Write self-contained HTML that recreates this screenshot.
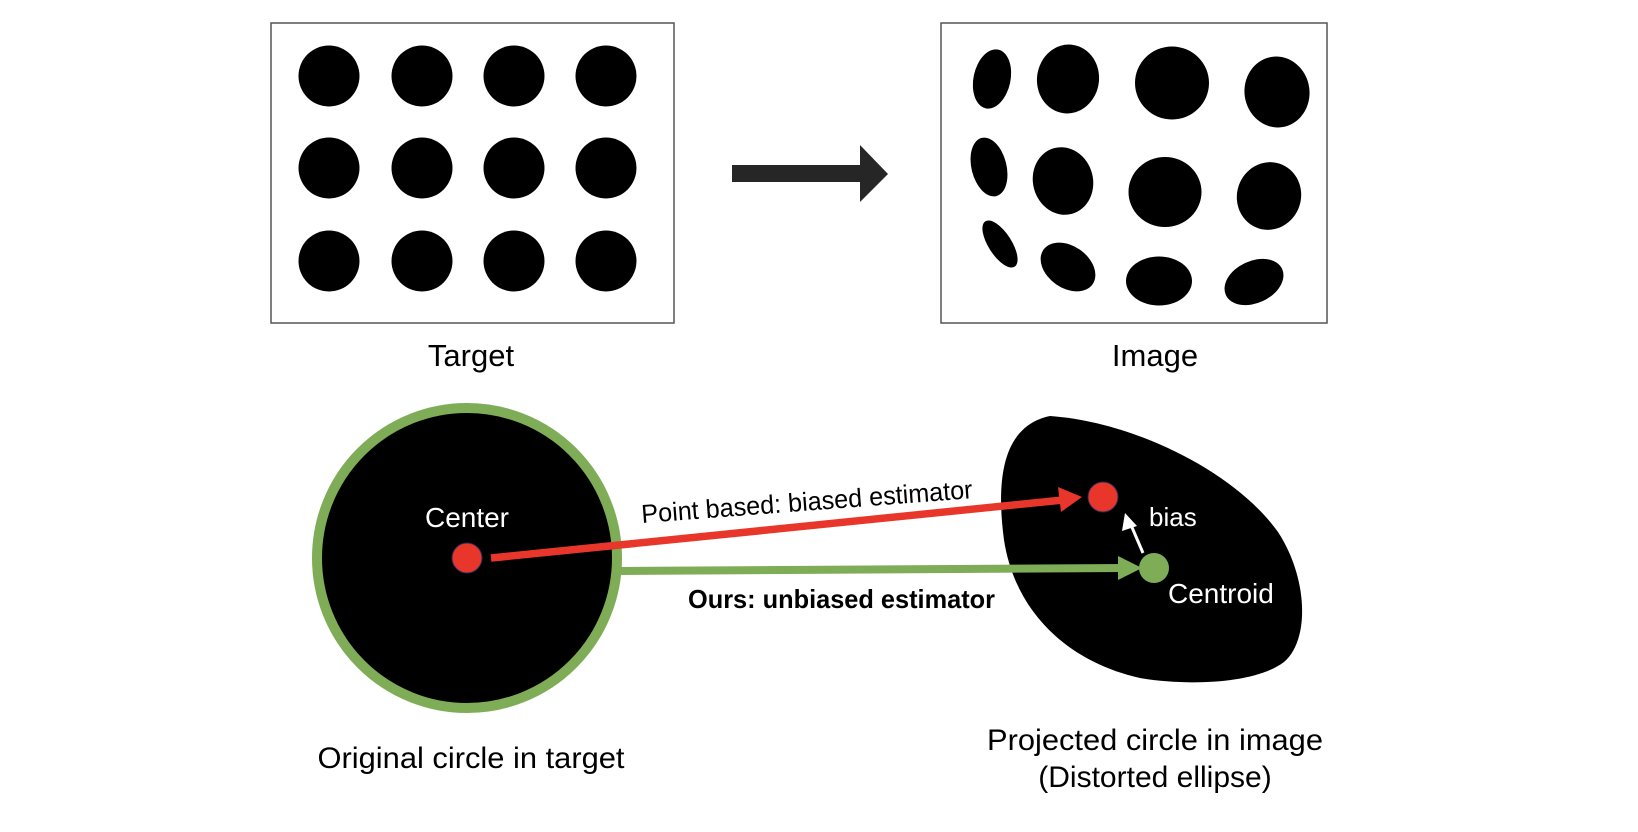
<!DOCTYPE html>
<html><head><meta charset="utf-8"><style>html,body{margin:0;padding:0;background:#fff;}svg{display:block;}</style></head>
<body>
<svg width="1638" height="832" viewBox="0 0 1638 832" xmlns="http://www.w3.org/2000/svg" font-family="Liberation Sans, Arial, sans-serif">
<rect width="1638" height="832" fill="#fff"/>
<rect x="271" y="23" width="403" height="300" fill="#fff" stroke="#555" stroke-width="1.5"/>
<g fill="#000">
<circle cx="329" cy="76" r="30.5"/><circle cx="422" cy="76" r="30.5"/><circle cx="514" cy="76" r="30.5"/><circle cx="606" cy="76" r="30.5"/>
<circle cx="329" cy="168" r="30.5"/><circle cx="422" cy="168" r="30.5"/><circle cx="514" cy="168" r="30.5"/><circle cx="606" cy="168" r="30.5"/>
<circle cx="329" cy="261" r="30.5"/><circle cx="422" cy="261" r="30.5"/><circle cx="514" cy="261" r="30.5"/><circle cx="606" cy="261" r="30.5"/>
</g>
<rect x="941" y="23" width="386" height="300" fill="#fff" stroke="#555" stroke-width="1.5"/>
<g fill="#000">
<ellipse cx="992" cy="79" rx="18.5" ry="30" transform="rotate(12 992 79)"/>
<ellipse cx="1068" cy="79" rx="31" ry="34.5" transform="rotate(8 1068 79)"/>
<ellipse cx="1172" cy="83" rx="37" ry="36.5"/>
<ellipse cx="1277" cy="92" rx="32.5" ry="35.5" transform="rotate(-8 1277 92)"/>
<ellipse cx="989" cy="167" rx="17.5" ry="30" transform="rotate(-14 989 167)"/>
<ellipse cx="1063" cy="181" rx="30" ry="34" transform="rotate(-15 1063 181)"/>
<ellipse cx="1165" cy="192" rx="36.5" ry="35"/>
<ellipse cx="1269" cy="196" rx="32" ry="34" transform="rotate(18 1269 196)"/>
<ellipse cx="1000" cy="244" rx="11.5" ry="27" transform="rotate(-33 1000 244)"/>
<ellipse cx="1068" cy="267" rx="30" ry="21" transform="rotate(35 1068 267)"/>
<ellipse cx="1159" cy="281" rx="33" ry="24.5"/>
<ellipse cx="1254" cy="282" rx="31" ry="21" transform="rotate(-25 1254 282)"/>
</g>
<polygon points="732,165 860,165 860,145 888,174 860,202 860,182 732,182" fill="#262626"/>
<g font-size="31" fill="#000" text-anchor="middle">
<text x="471" y="366">Target</text>
<text x="1155" y="366">Image</text>
</g>
<circle cx="467" cy="558" r="150" fill="#000" stroke="#7fac57" stroke-width="10"/>
<path d="M1050 416 C1135 422 1235 472 1278 532 C1308 578 1310 640 1284 662 C1252 686 1180 685 1140 678 C1068 662 1015 612 1004 540 C996 480 1002 426 1050 416 Z" fill="#000"/>
<line x1="620" y1="571" x2="1125" y2="568" stroke="#7fac57" stroke-width="8"/>
<polygon points="1142,568 1118,556 1118,580" fill="#7fac57"/>
<line x1="491" y1="558" x2="1063" y2="500" stroke="#e8372a" stroke-width="7.5"/>
<polygon points="1082,497 1058,487 1061,512" fill="#e8372a"/>
<circle cx="467" cy="558" r="15" fill="#e8372a" stroke="#2a2a5a" stroke-width="1"/>
<circle cx="1103" cy="497" r="15" fill="#e8372a" stroke="#2a2a5a" stroke-width="1"/>
<circle cx="1154" cy="568" r="15" fill="#7fac57"/>
<line x1="1143" y1="553" x2="1131" y2="525" stroke="#fff" stroke-width="3"/>
<polygon points="1125,513 1122,531 1137,526" fill="#fff"/>
<g font-size="28" fill="#fff">
<text x="467" y="527" text-anchor="middle">Center</text>
<text x="1149" y="526" font-size="26">bias</text>
<text x="1168" y="603">Centroid</text>
</g>
<text x="642" y="523" font-size="26" fill="#000" transform="rotate(-4.3 642 523)" textLength="332" lengthAdjust="spacingAndGlyphs">Point based: biased estimator</text>
<text x="688" y="608" font-size="26" font-weight="bold" fill="#000" textLength="307" lengthAdjust="spacingAndGlyphs">Ours: unbiased estimator</text>
<g font-size="30" fill="#000" text-anchor="middle">
<text x="471" y="768" textLength="307" lengthAdjust="spacingAndGlyphs">Original circle in target</text>
<text x="1155" y="750" textLength="336" lengthAdjust="spacingAndGlyphs">Projected circle in image</text>
<text x="1155" y="787">(Distorted ellipse)</text>
</g>
</svg>
</body></html>
